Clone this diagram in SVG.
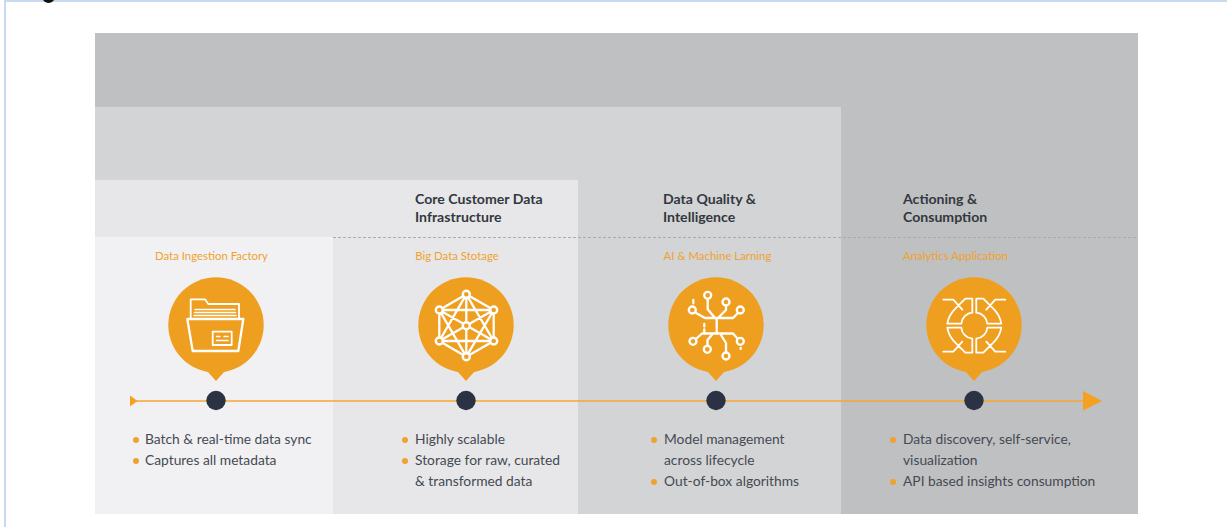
<svg xmlns="http://www.w3.org/2000/svg" width="1227" height="527" viewBox="0 0 1227 527">
<style>
text{font-family:Lato,"Open Sans","Liberation Sans",sans-serif}
.h{font-size:14.100px;font-weight:700;fill:#33383f}
.s{font-size:11.400px;fill:#f0a22e;text-anchor:middle}
.b{font-size:13.800px;fill:#454a52}
.d{fill:#f0a22e}
.ln{fill:none;stroke:#fff;stroke-width:2.300;stroke-linecap:round;stroke-linejoin:round}
.ld{fill:none;stroke:#fff;stroke-width:1.500;stroke-linecap:round;stroke-linejoin:round}
.lq{fill:none;stroke:#fff;stroke-width:1.800;stroke-linecap:round;stroke-linejoin:round}
.pin{fill:#ef9f1f}
.dot{fill:#2b3244}
</style>
<defs>
<g id="pinS"><circle cx="0" cy="0" r="47.700" class="pin"/><path d="M-9 46L0 56L9 46Z" class="pin"/></g>
<path id="quad" class="lq" d="M-27 -2A27 27 0 0 1 -19 -17L-9 -27H-2V-13A12 12 0 0 0 -13 -2H-27M-31 -26H-21L-12 -16"/>
</defs>
<rect width="1227" height="527" fill="#fff"/>
<path d="M5 527V1H1227" fill="none" stroke="#c9d9ef" stroke-width="2"/>
<path d="M43 0H54Q52 3 48 3Q45 3 43 0Z" fill="#111"/>
<g id="bands">
<rect x="95" y="33" width="1043" height="481" fill="#bfc0c2"/>
<rect x="95" y="107" width="746" height="407" fill="#d3d4d6"/>
<rect x="95" y="180" width="483" height="334" fill="#e7e7e9"/>
<rect x="95" y="237" width="238" height="277" fill="#f1f1f3"/>
<path d="M333 237.500H1138" stroke="#a9abae" stroke-width="1" stroke-dasharray="3 2" fill="none"/>
</g>
<g id="connectors">
<path d="M136 401H1086" stroke="#f5a733" stroke-width="1.300" fill="none"/>
<path d="M130 395.500L137.500 401L130 406.500Z" fill="#f5a01f"/>
<path d="M1083 391L1102 401L1083 410.500Z" fill="#f5a01f"/>
</g>
<g id="node-ingestion">
<text class="s" x="211.500" y="260">Data Ingestion Factory</text>
<use href="#pinS" x="216" y="325"/>
<path class="lq" d="M190.700 318V299.300H205L208.300 304H239V318"/>
<path class="ld" d="M195 309.500H235M194.500 312.500H235.500M194 315.500H236"/>
<path class="ln" d="M187.300 319H243.300L238.300 351H192.700Z"/>
<path class="lq" d="M212.700 331.700H231.700V345H212.700Z"/>
<path class="ld" d="M216.500 336.500H220M224 336.500H228M216.500 340.500H228"/>
<circle class="dot" cx="216" cy="400.500" r="9.700"/>
<circle class="d" cx="136" cy="440" r="3"/><text class="b" x="145" y="444">Batch &amp; real-time data sync</text>
<circle class="d" cx="136" cy="461" r="3"/><text class="b" x="145" y="465">Captures all metadata</text>
</g>
<g id="node-storage">
<text class="h" x="415" y="204">Core Customer Data</text>
<text class="h" x="415" y="222">Infrastructure</text>
<text class="s" x="457" y="260">Big Data Stotage</text>
<use href="#pinS" x="466" y="325"/>
<path class="ln" d="M466.300 294.300L493.700 310V341L466.300 356.700L439.300 341V310ZM466.300 294.300V356.700M439.300 310L493.700 341M493.700 310L439.300 341M466.300 294.300L439.300 341M466.300 294.300L493.700 341M439.300 310H493.700M439.300 341H493.700M439.300 310L466.300 356.700M493.700 310L466.300 356.700"/>
<g fill="#ef9f1f" stroke="#fff" stroke-width="2.400"><circle cx="466.300" cy="294.300" r="3.500"/><circle cx="439.300" cy="310" r="3.500"/><circle cx="493.700" cy="310" r="3.500"/><circle cx="439.300" cy="341" r="3.500"/><circle cx="493.700" cy="341" r="3.500"/><circle cx="466.300" cy="356.700" r="3.500"/><circle cx="466.300" cy="325.700" r="3.500"/></g>
<circle class="dot" cx="466" cy="400.500" r="9.700"/>
<circle class="d" cx="405" cy="440" r="3"/><text class="b" x="415" y="444">Highly scalable</text>
<circle class="d" cx="405" cy="461" r="3"/><text class="b" x="415" y="465">Storage for raw, curated</text>
<text class="b" x="415" y="486">&amp; transformed data</text>
</g>
<g id="node-ai">
<text class="h" x="663" y="204">Data Quality &amp;</text>
<text class="h" x="663" y="222">Intelligence</text>
<text class="s" x="717.500" y="260">AI &amp; Machine Larning</text>
<use href="#pinS" x="716" y="325"/>
<path class="ln" d="M716.700 318V333.300M707.700 299V309.300L715 318M726 306V310L718 318M696 313L705 318H733L738 313M697 338L702 333.500H733L737 338M707.500 345V340L713 333.500M726 352V343L720 333.500M693.300 300V303.300M704.300 324V326.500M704.300 329.500V333M740.700 348V349"/>
<g fill="#ef9f1f" stroke="#fff" stroke-width="2.300"><circle cx="707.700" cy="295.300" r="3.500"/><circle cx="692.300" cy="310" r="3.500"/><circle cx="726" cy="302" r="3.500"/><circle cx="740.300" cy="310" r="3.500"/><circle cx="693" cy="341.300" r="3.500"/><circle cx="707.300" cy="349.300" r="3.500"/><circle cx="726" cy="356" r="3.500"/><circle cx="740.300" cy="341.300" r="3.500"/></g>
<circle class="dot" cx="716" cy="400.500" r="9.700"/>
<circle class="d" cx="654" cy="440" r="3"/><text class="b" x="664" y="444">Model management</text>
<text class="b" x="664" y="465">across lifecycle</text>
<circle class="d" cx="654" cy="482" r="3"/><text class="b" x="664" y="486">Out-of-box algorithms</text>
</g>
<g id="node-analytics">
<text class="h" x="903" y="204">Actioning &amp;</text>
<text class="h" x="903" y="222">Consumption</text>
<text class="s" x="955.500" y="260">Analytics Application</text>
<use href="#pinS" x="974" y="325"/>
<use href="#quad" transform="translate(974.300 325.700)"/>
<use href="#quad" transform="translate(974.300 325.700) scale(-1 1)"/>
<use href="#quad" transform="translate(974.300 325.700) scale(1 -1)"/>
<use href="#quad" transform="translate(974.300 325.700) scale(-1 -1)"/>
<circle class="dot" cx="974" cy="400.500" r="9.700"/>
<circle class="d" cx="893" cy="440" r="3"/><text class="b" x="903" y="444">Data discovery, self-service,</text>
<text class="b" x="903" y="465">visualization</text>
<circle class="d" cx="893" cy="482" r="3"/><text class="b" x="903" y="486">API based insights consumption</text>
</g>
</svg>
